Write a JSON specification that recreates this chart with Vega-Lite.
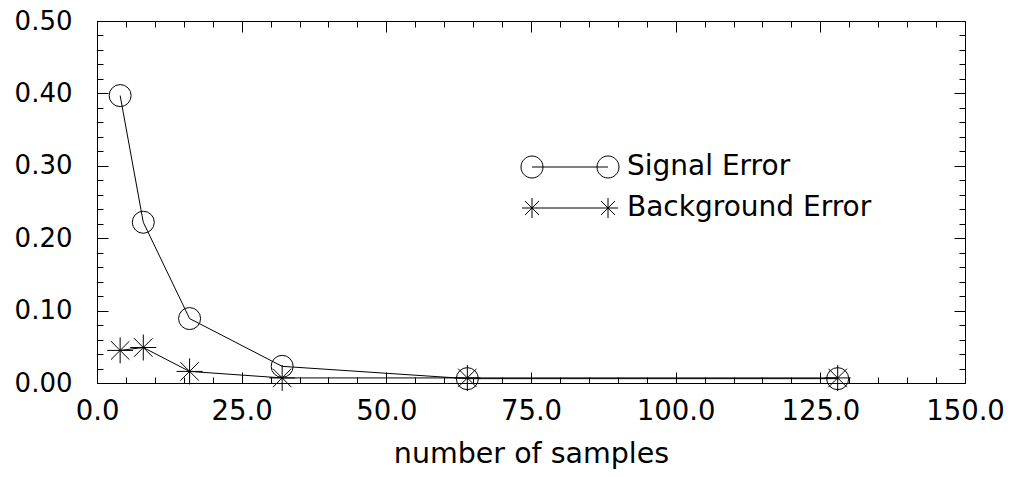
{
  "$schema": "https://vega.github.io/schema/vega-lite/v6.json",
  "width": 868,
  "height": 362,
  "autosize": {"type": "none"},
  "padding": {"left": 97, "top": 21, "right": 46, "bottom": 94},
  "background": "white",
  "config": {
    "font": "DejaVu Sans",
    "view": {"stroke": "black", "strokeWidth": 1},
    "axis": {"grid": false, "domain": false, "labelColor": "black", "titleColor": "black", "tickColor": "black"}
  },
  "data": {
    "values": [
      {"series": "Signal Error", "samples": 4, "error": 0.397},
      {"series": "Signal Error", "samples": 8, "error": 0.222},
      {"series": "Signal Error", "samples": 16, "error": 0.089},
      {"series": "Signal Error", "samples": 32, "error": 0.023},
      {"series": "Signal Error", "samples": 64, "error": 0.006},
      {"series": "Signal Error", "samples": 128, "error": 0.006},
      {"series": "Background Error", "samples": 4, "error": 0.045},
      {"series": "Background Error", "samples": 8, "error": 0.049},
      {"series": "Background Error", "samples": 16, "error": 0.016},
      {"series": "Background Error", "samples": 32, "error": 0.007},
      {"series": "Background Error", "samples": 64, "error": 0.007},
      {"series": "Background Error", "samples": 128, "error": 0.007}
    ]
  },
  "resolve": {"axis": {"x": "independent", "y": "independent"}},
  "layer": [
    {
      "mark": {"type": "line", "color": "black", "strokeWidth": 1},
      "encoding": {
        "x": {"field": "samples", "type": "quantitative", "scale": {"domain": [0, 150], "nice": false},
          "axis": {"orient": "bottom", "values": [0, 25, 50, 75, 100, 125, 150], "format": ".1f", "ticks": false,
            "labelFontSize": 27.5, "labelPadding": 14, "labelOverlap": false, "labelFlush": false,
            "title": "number of samples", "titleFontSize": 28.5, "titleFontWeight": "normal", "titlePadding": 15}},
        "y": {"field": "error", "type": "quantitative", "scale": {"domain": [0, 0.5], "nice": false},
          "axis": {"orient": "left", "values": [0, 0.1, 0.2, 0.3, 0.4, 0.5], "format": ".2f", "ticks": false,
            "labelFontSize": 26, "labelPadding": 25, "labelOverlap": false, "labelFlush": false, "title": null}},
        "detail": {"field": "series"},
        "order": {"field": "samples"}
      }
    },
    {
      "transform": [{"filter": "datum.series === 'Signal Error'"}],
      "mark": {"type": "point", "filled": false, "color": "black", "strokeWidth": 1, "opacity": 1, "shape": "circle", "size": 484},
      "encoding": {
        "x": {"field": "samples", "type": "quantitative",
          "axis": {"orient": "top", "labels": false, "title": null,
            "values": [0,5,10,15,20,25,30,35,40,45,50,55,60,65,70,75,80,85,90,95,100,105,110,115,120,125,130,135,140,145,150],
            "tickSize": {"condition": {"test": "datum.value % 25 === 0", "value": -11}, "value": -6}}},
        "y": {"field": "error", "type": "quantitative",
          "axis": {"orient": "right", "labels": false, "title": null,
            "values": [0,0.02,0.04,0.06,0.08,0.1,0.12,0.14,0.16,0.18,0.2,0.22,0.24,0.26,0.28,0.3,0.32,0.34,0.36,0.38,0.4,0.42,0.44,0.46,0.48,0.5],
            "tickSize": {"condition": {"test": "abs(datum.value*10 - round(datum.value*10)) < 0.001", "value": -11}, "value": -6}}}
      }
    },
    {
      "transform": [{"filter": "datum.series === 'Background Error'"}],
      "mark": {"type": "point", "filled": false, "color": "black", "strokeWidth": 1, "opacity": 1, "size": 676,
        "shape": "M-1,0L1,0M0,-1L0,1M-0.71,-0.71L0.71,0.71M-0.71,0.71L0.71,-0.71"},
      "encoding": {
        "x": {"field": "samples", "type": "quantitative",
          "axis": {"orient": "bottom", "labels": false, "title": null,
            "values": [0,5,10,15,20,25,30,35,40,45,50,55,60,65,70,75,80,85,90,95,100,105,110,115,120,125,130,135,140,145,150],
            "tickSize": {"condition": {"test": "datum.value % 25 === 0", "value": -11}, "value": -6}}},
        "y": {"field": "error", "type": "quantitative",
          "axis": {"orient": "left", "labels": false, "title": null,
            "values": [0,0.02,0.04,0.06,0.08,0.1,0.12,0.14,0.16,0.18,0.2,0.22,0.24,0.26,0.28,0.3,0.32,0.34,0.36,0.38,0.4,0.42,0.44,0.46,0.48,0.5],
            "tickSize": {"condition": {"test": "abs(datum.value*10 - round(datum.value*10)) < 0.001", "value": -11}, "value": -6}}}
      }
    },
    {
      "transform": [{"filter": "false"}],
      "mark": {"type": "point", "filled": false, "color": "black", "strokeWidth": 1, "opacity": 1},
      "encoding": {
        "shape": {"field": "series", "type": "nominal",
          "scale": {"domain": ["Signal Error", "Background Error"],
            "range": [
              "M-1,0A1,1 0 1,1 1,0A1,1 0 1,1 -1,0M0,0L6.91,0M5.91,0A1,1 0 1,1 7.91,0A1,1 0 1,1 5.91,0",
              "M-0.91,0L7.82,0M0,-0.91L0,0.91M-0.64,-0.64L0.64,0.64M-0.64,0.64L0.64,-0.64M6.91,-0.91L6.91,0.91M6.27,-0.64L7.55,0.64M6.27,0.64L7.55,-0.64"
            ]},
          "legend": {"orient": "none", "legendX": 421, "legendY": 132, "title": null, "padding": 0,
            "labelFontSize": 28, "labelColor": "black", "labelOffset": 81, "labelLimit": 0, "rowPadding": 13,
            "symbolSize": 484, "symbolStrokeColor": "black", "symbolStrokeWidth": 1, "symbolFillColor": "transparent", "symbolOpacity": 1}}
      }
    }
  ]
}
